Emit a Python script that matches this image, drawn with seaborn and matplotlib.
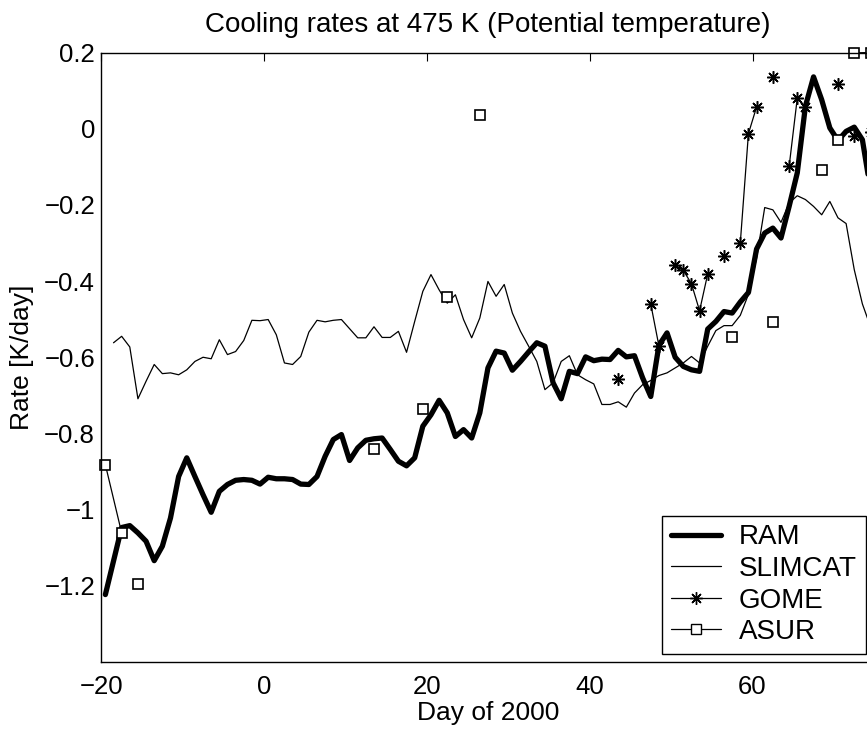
import numpy as np
import pandas as pd
import matplotlib
matplotlib.use("Agg")
import matplotlib.pyplot as plt
import seaborn as sns
from matplotlib.lines import Line2D
from matplotlib.ticker import FuncFormatter

# ---------------- data ----------------
ram_first_day = -19.5
ram_values = [
    -1.223, -1.135, -1.047, -1.042, -1.061, -1.083, -1.134, -1.096, -1.022, -0.913,
    -0.864, -0.913, -0.961, -1.007, -0.952, -0.934, -0.923, -0.921, -0.923, -0.933,
    -0.915, -0.919, -0.919, -0.921, -0.933, -0.934, -0.913, -0.860, -0.816, -0.803,
    -0.871, -0.838, -0.818, -0.814, -0.812, -0.842, -0.873, -0.885, -0.864, -0.781,
    -0.751, -0.713, -0.746, -0.808, -0.790, -0.812, -0.746, -0.628, -0.584, -0.589,
    -0.634, -0.611, -0.586, -0.562, -0.571, -0.667, -0.709, -0.637, -0.643, -0.599,
    -0.609, -0.605, -0.606, -0.582, -0.599, -0.596, -0.654, -0.703, -0.569, -0.536,
    -0.600, -0.624, -0.633, -0.637, -0.526, -0.506, -0.480, -0.484, -0.455, -0.430,
    -0.316, -0.274, -0.261, -0.287, -0.204, -0.116, 0.059, 0.136, 0.076, 0.002,
    -0.031, -0.007, 0.004, -0.029, -0.160,
]

slimcat_first_day = -18.5
slimcat_values = [
    -0.562, -0.545, -0.573, -0.709, -0.663, -0.619, -0.643, -0.641, -0.646, -0.633,
    -0.611, -0.600, -0.604, -0.554, -0.593, -0.585, -0.556, -0.503, -0.504, -0.501,
    -0.541, -0.615, -0.619, -0.598, -0.534, -0.503, -0.507, -0.503, -0.501, -0.525,
    -0.549, -0.549, -0.520, -0.548, -0.548, -0.532, -0.587, -0.506, -0.427, -0.383,
    -0.423, -0.458, -0.436, -0.501, -0.549, -0.497, -0.401, -0.440, -0.409, -0.484,
    -0.532, -0.571, -0.611, -0.685, -0.667, -0.611, -0.596, -0.646, -0.659, -0.670,
    -0.724, -0.724, -0.717, -0.731, -0.694, -0.672, -0.661, -0.648, -0.641, -0.628,
    -0.615, -0.598, -0.615, -0.571, -0.530, -0.517, -0.517, -0.490, -0.435, -0.340,
    -0.207, -0.213, -0.246, -0.195, -0.176, -0.186, -0.204, -0.226, -0.191, -0.234,
    -0.249, -0.370, -0.460, -0.520,
]

# NaN entries separate unconnected pieces
gome_days = [43.5, np.nan, 47.5, 48.5, np.nan, 50.5, 51.5, 52.5, 53.5, 54.5, np.nan,
             56.5, np.nan, 58.5, 59.5, 60.5, np.nan, 62.5, np.nan, 64.5, 65.5, 66.5,
             np.nan, 70.5, np.nan, 72.5, np.nan, 74.5]
gome_values = [-0.657, np.nan, -0.460, -0.570, np.nan, -0.359, -0.372, -0.407, -0.478,
               -0.381, np.nan, -0.335, np.nan, -0.300, -0.013, 0.057, np.nan, 0.136,
               np.nan, -0.099, 0.080, 0.057, np.nan, 0.118, np.nan, -0.018, np.nan, -0.010]

asur_days = [-19.5, -17.5, np.nan, -15.5, np.nan, 13.5, np.nan, 19.5, np.nan, 22.5,
             np.nan, 26.5, np.nan, 57.5, np.nan, 62.5, np.nan, 68.5, np.nan, 70.5,
             np.nan, 72.5, 74.5]
asur_values = [-0.882, -1.061, np.nan, -1.195, np.nan, -0.840, np.nan, -0.737, np.nan,
               -0.443, np.nan, 0.037, np.nan, -0.548, np.nan, -0.507, np.nan, -0.109,
               np.nan, -0.029, np.nan, 0.199, 0.200]

x_ticks = [-20, 0, 20, 40, 60]
y_ticks = [-1.2, -1.0, -0.8, -0.6, -0.4, -0.2, 0.0, 0.2]
series_names = ["RAM", "SLIMCAT", "GOME", "ASUR"]


def daily_frame(first_day, values):
    days = first_day + np.arange(len(values))
    return pd.DataFrame({"day": days, "rate": values, "seg": 0})


def segmented_frame(days, values):
    df = pd.DataFrame({"day": days, "rate": values})
    df["seg"] = df["rate"].isna().cumsum()
    return df.dropna().reset_index(drop=True)


ram_df = daily_frame(ram_first_day, ram_values)
slim_df = daily_frame(slimcat_first_day, slimcat_values)
gome_df = segmented_frame(gome_days, gome_values)
asur_df = segmented_frame(asur_days, asur_values)

# ---------------- style ----------------
sns.set_style("white")
plt.rcParams["font.family"] = ["Liberation Sans", "DejaVu Sans"]
plt.rcParams.update({"text.color": "black", "axes.labelcolor": "black",
                     "xtick.color": "black", "ytick.color": "black",
                     "axes.edgecolor": "black"})
FS_TICK, FS_LABEL, FS_TITLE, FS_LEG = 18.5, 19, 20, 20

W, H = 867, 729
fig = plt.figure(figsize=(W / 100, H / 100), dpi=100)
ax_left, ax_right, ax_top, ax_bottom = 101.3, 874.6, 52.5, 662.0
ax = fig.add_axes([ax_left / W, 1 - ax_bottom / H,
                   (ax_right - ax_left) / W, (ax_bottom - ax_top) / H])

star = (8, 2, 0)
common = dict(ax=ax, x="day", y="rate", estimator=None, sort=False,
              legend=False, color="black")

sns.lineplot(data=slim_df, linewidth=0.9, **common)
sns.lineplot(data=ram_df, linewidth=3.8, **common)
sns.lineplot(data=gome_df, units="seg", linewidth=0.9, marker=star,
             markersize=9, markeredgewidth=1.1, markeredgecolor="black", **common)
sns.lineplot(data=asur_df, units="seg", linewidth=0.9, marker="s",
             markersize=6.5, markerfacecolor="white", markeredgewidth=1.2,
             markeredgecolor="black", clip_on=False, **common)
sns.scatterplot(data=asur_df, x="day", y="rate", ax=ax, marker="s", s=1.5,
                color="black", linewidth=0, legend=False, clip_on=False)

ax.set_xlim(-20, 75)
ax.set_ylim(-1.4, 0.2)
ax.set_xticks(x_ticks)
ax.set_yticks(y_ticks)
fmt = FuncFormatter(lambda v, p: ("%g" % round(v, 2)).replace("-", "\u2212"))
ax.xaxis.set_major_formatter(fmt)
ax.yaxis.set_major_formatter(fmt)
ax.tick_params(direction="in", length=5.5, width=0.8, top=True, right=True,
               labelsize=FS_TICK, colors="black")
ax.tick_params(axis="x", pad=9)
ax.tick_params(axis="y", pad=4.5)
for s in ax.spines.values():
    s.set_visible(True)
    s.set_color("black")
    s.set_linewidth(1.0)

ax.set_title("Cooling rates at 475 K (Potential temperature)", fontsize=FS_TITLE,
             pad=14.8, color="black")
ax.set_xlabel("Day of 2000", fontsize=FS_LABEL, labelpad=2, color="black")
ax.set_ylabel("Rate [K/day]", fontsize=FS_LABEL, labelpad=7, color="black")

handles = [
    Line2D([], [], color="black", lw=3.8),
    Line2D([], [], color="black", lw=0.9),
    Line2D([], [], color="black", lw=0.9, marker=star, markersize=9, markeredgewidth=1.0),
    Line2D([], [], color="black", lw=0.9, marker="s", markersize=6.5,
           markerfacecolor="white", markeredgewidth=1.0),
]
leg = fig.legend(handles, series_names, loc="lower right",
                 bbox_to_anchor=(866 / W, 1 - 654 / H), fontsize=FS_LEG,
                 frameon=True, fancybox=False, framealpha=1, edgecolor="black",
                 handlelength=1.8, handletextpad=0.65, labelspacing=0.2,
                 borderpad=0.32, borderaxespad=0)
leg.get_frame().set_linewidth(1.0)
for t in leg.get_texts():
    t.set_color("black")

fig.savefig("out.png", dpi=100)
